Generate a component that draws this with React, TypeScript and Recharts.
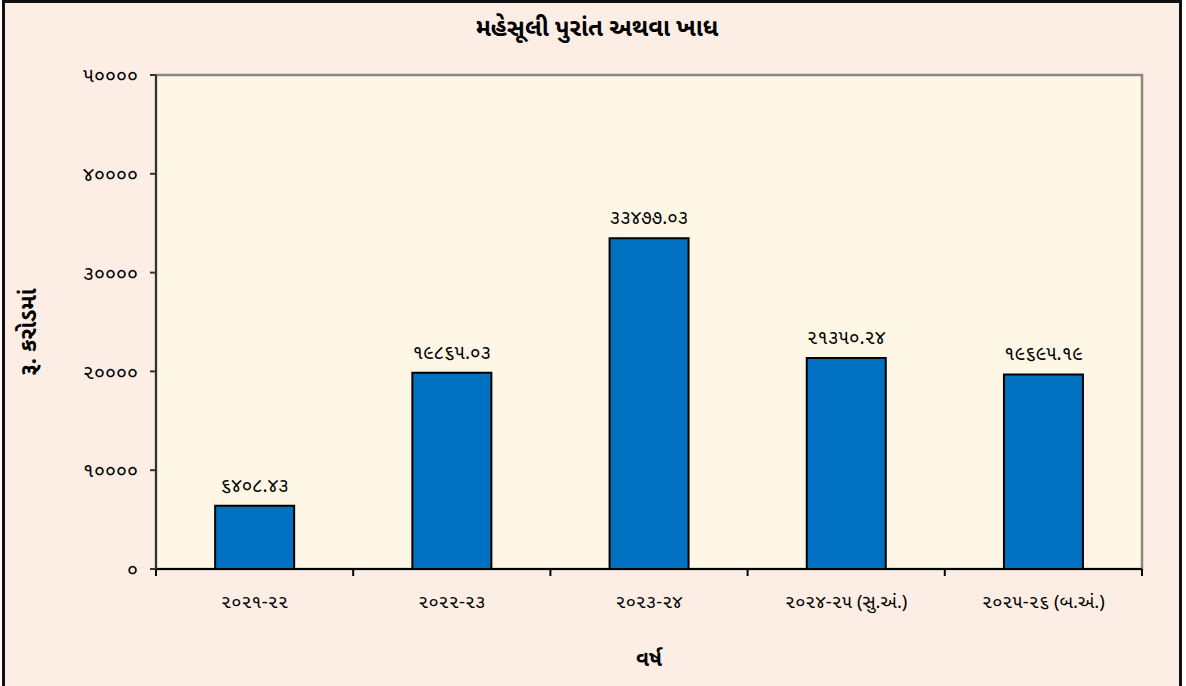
import { Bar, BarChart, CartesianGrid, LabelList, ReferenceArea, XAxis, YAxis } from "recharts"

// categories (financial years) and revenue surplus / deficit in Rs. crore
const years = ["૨૦૨૧-૨૨", "૨૦૨૨-૨૩", "૨૦૨૩-૨૪", "૨૦૨૪-૨૫ (સુ.અં.)", "૨૦૨૫-૨૬ (બ.અં.)"]
const values = [6408.43, 19865.03, 33477.03, 21350.24, 19695.19]
const yTicks = [0, 10000, 20000, 30000, 40000, 50000]

const title = "મહેસૂલી પુરાંત અથવા ખાધ"
const yTitle = "રૂ. કરોડમાં"
const xTitle = "વર્ષ"

const data = years.map((year, i) => ({ year, value: values[i] }))

const guDigits = "૦૧૨૩૪૫૬૭૮૯"
const toGu = (s: string) => s.replace(/[0-9]/g, (d) => guDigits[Number(d)])

const FONT = "'Noto Sans Gujarati', 'Lohit Gujarati', 'Noto Sans', sans-serif"

const W = 1186
const H = 686
const MARGIN = { top: 75, right: 44, left: 0, bottom: 0 }
const Y_AXIS_W = 156
const BAND = (W - MARGIN.left - MARGIN.right - Y_AXIS_W) / years.length
const TICK_MARGIN = 26

// category label in the middle of the band, tick marks on the band edges (Excel style)
function CatTick(props: any) {
  const { x, y, payload, index } = props
  const axisY = y - TICK_MARGIN
  const left = x - BAND / 2
  const right = x + BAND / 2
  return (
    <g>
      <line x1={left} y1={axisY} x2={left} y2={axisY + 7} stroke="#000" strokeWidth={2} />
      {index === years.length - 1 && (
        <line x1={right} y1={axisY} x2={right} y2={axisY + 7} stroke="#000" strokeWidth={2} />
      )}
      <text x={x} y={y} dy="0.71em" textAnchor="middle" fontSize={18.5} fontFamily={FONT} fill="#000">
        {payload.value}
      </text>
    </g>
  )
}

export default function App() {
  return (
    <div style={{ position: "relative", width: W, height: H, overflow: "hidden", background: "#ffffff", fontFamily: FONT }}>
      <style>{`body{margin:0}`}</style>
      <div
        style={{
          position: "absolute",
          left: 2,
          top: 0,
          width: 1180,
          height: 700,
          boxSizing: "border-box",
          border: "3px solid #111",
          borderBottom: "none",
          background: "#FCEEE5",
        }}
      />
      <div
        style={{
          position: "absolute",
          left: 4,
          top: 14,
          width: W,
          textAlign: "center",
          fontSize: 24,
          fontWeight: "bold",
          color: "#000",
        }}
      >
        {title}
      </div>
      <div style={{ position: "absolute", left: 0, top: 0 }}>
        <BarChart width={W} height={H} data={data} margin={MARGIN} barCategoryGap="30%">
          <CartesianGrid horizontal={false} vertical={false} fill="#FFF7E5" />
          <ReferenceArea y1={0} y2={50000} fill="none" stroke="#888" strokeWidth={2.5} ifOverflow="visible" />
          <XAxis
            dataKey="year"
            height={117}
            stroke="#000"
            strokeWidth={2}
            tickLine={false}
            tickSize={0}
            tickMargin={TICK_MARGIN}
            tick={<CatTick />}
            interval={0}
            label={{
              content: ({ viewBox }: any) => (
                <text
                  x={viewBox.x + viewBox.width / 2}
                  y={viewBox.y + 92}
                  textAnchor="middle"
                  dominantBaseline="central"
                  fontSize={21}
                  fontWeight="bold"
                  fontFamily={FONT}
                  fill="#000"
                >
                  {xTitle}
                </text>
              ),
            }}
          />
          <YAxis
            domain={[0, 50000]}
            ticks={yTicks}
            width={Y_AXIS_W}
            tickSize={6}
            tickMargin={12}
            stroke="#333"
            strokeWidth={2}
            tick={{ fill: "#000", fontSize: 20, fontFamily: FONT }}
            tickFormatter={(v) => toGu(String(v))}
            label={{
              content: ({ viewBox }: any) => {
                const cx = viewBox.x + 30
                const cy = viewBox.y + viewBox.height / 2 + 10
                return (
                  <text
                    x={cx}
                    y={cy}
                    transform={`rotate(-90, ${cx}, ${cy})`}
                    textAnchor="middle"
                    dominantBaseline="central"
                    fontSize={23}
                    fontWeight="bold"
                    fontFamily={FONT}
                    fill="#000"
                  >
                    {yTitle}
                  </text>
                )
              },
            }}
          />
          <Bar dataKey="value" fill="#0070C0" stroke="#000" strokeWidth={2} isAnimationActive={false}>
            <LabelList
              dataKey="value"
              position="top"
              offset={14}
              fill="#000"
              fontSize={19}
              fontFamily={FONT}
              formatter={(v: any) => toGu(Number(v).toFixed(2))}
            />
          </Bar>
        </BarChart>
      </div>
    </div>
  )
}
